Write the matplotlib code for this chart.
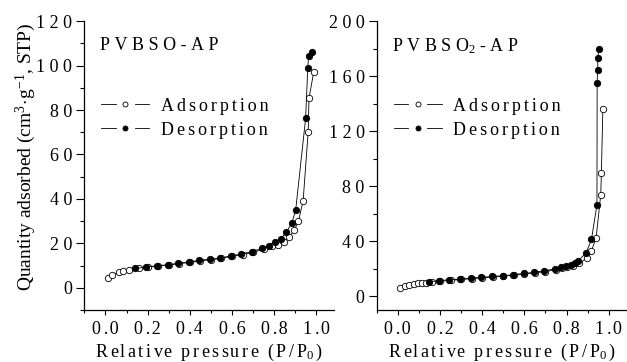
import numpy as np
import matplotlib
matplotlib.use('Agg')
import matplotlib.pyplot as plt
from matplotlib.ticker import MultipleLocator, FixedLocator, FixedFormatter
from matplotlib.lines import Line2D
from matplotlib.legend_handler import HandlerBase

plt.rcParams['font.family'] = ['Liberation Serif', 'DejaVu Serif']
plt.rcParams['mathtext.fontset'] = 'custom'
plt.rcParams['mathtext.rm'] = 'Liberation Serif'
plt.rcParams['mathtext.it'] = 'Liberation Serif:italic'

HAIR = '\u200a'

def spaced(s, n):
    # fake the wide letter spacing of the original figure (n hair spaces per gap, may be fractional)
    out = s[0]
    for i, c in enumerate(s[1:]):
        k = round((i + 1) * n) - round(i * n)
        out += HAIR * k + c
    return out

# ---- data ----
# PVBSO-AP
ads1_x = [0.01, 0.03, 0.065, 0.085, 0.11, 0.16, 0.20, 0.25, 0.30, 0.35, 0.40, 0.45,
          0.50, 0.55, 0.60, 0.65, 0.70, 0.75, 0.79, 0.82, 0.845, 0.87, 0.895, 0.915,
          0.937, 0.961, 0.965, 0.987]
ads1_y = [4.4, 5.8, 7.0, 7.5, 8.0, 8.7, 9.2, 9.8, 10.2, 10.9, 11.4, 12.1,
          12.7, 13.2, 14.2, 14.9, 16.0, 17.3, 18.6, 19.3, 20.8, 22.8, 25.8, 30.1,
          39.0, 70.0, 85.3, 96.9]
des1_x = [0.138, 0.193, 0.245, 0.296, 0.346, 0.394, 0.443, 0.494, 0.545, 0.593, 0.644,
          0.694, 0.744, 0.775, 0.802, 0.831, 0.858, 0.884, 0.902, 0.949, 0.959, 0.963, 0.981]
des1_y = [8.7, 9.3, 10.0, 10.3, 11.1, 11.6, 12.3, 12.9, 13.3, 14.4, 15.1,
          16.3, 17.8, 18.9, 20.4, 22.0, 25.0, 29.3, 35.1, 76.3, 98.7, 104.3, 105.9]

# PVBSO2-AP
ads2_x = [0.011, 0.032, 0.055, 0.075, 0.095, 0.115, 0.135, 0.16, 0.20, 0.25, 0.30, 0.35,
          0.40, 0.45, 0.50, 0.55, 0.60, 0.65, 0.70, 0.75, 0.78, 0.80, 0.83, 0.86,
          0.895, 0.917, 0.94, 0.962, 0.965, 0.972]
ads2_y = [6.0, 7.6, 8.4, 8.9, 9.3, 9.7, 10.0, 10.5, 11.0, 11.6, 12.2, 12.8,
          13.4, 14.0, 14.6, 15.3, 16.2, 17.0, 18.0, 19.3, 20.2, 21.0, 22.3, 24.0,
          27.6, 32.6, 42.3, 73.8, 89.3, 136.1]
des2_x = [0.147, 0.194, 0.245, 0.297, 0.348, 0.395, 0.447, 0.498, 0.545, 0.596, 0.644,
          0.692, 0.743, 0.774, 0.798, 0.822, 0.84, 0.856, 0.893, 0.918, 0.944,
          0.945, 0.947, 0.949, 0.952]
des2_y = [10.5, 11.3, 12.0, 12.5, 13.2, 13.7, 14.4, 14.9, 15.6, 16.6, 17.3,
          18.5, 19.8, 21.0, 21.7, 22.7, 24.0, 25.8, 31.6, 41.3, 66.5,
          154.8, 164.5, 173.5, 179.6]

x_ticks = [0.0, 0.2, 0.4, 0.6, 0.8, 1.0]
y_ticks1 = [0, 20, 40, 60, 80, 100, 120]
y_ticks2 = [0, 40, 80, 120, 160, 200]

panels = [
    dict(title=spaced('PVBSO-AP', 3), ads=(ads1_x, ads1_y), des=(des1_x, des1_y),
         ylim=(-10, 120), yticks=y_ticks1, minor=10),
    dict(title=spaced('PVBSO', 3) + r'$_2$' + HAIR * 3 + spaced('-AP', 3),
         ads=(ads2_x, ads2_y), des=(des2_x, des2_y),
         ylim=(-10, 200), yticks=y_ticks2, minor=20),
]


class GapLine(HandlerBase):
    """legend key drawn as  line - gap - marker - gap - line"""
    def __init__(self, gap=13.5, **kw):
        super().__init__(**kw)
        self.gap = gap

    def create_artists(self, legend, orig, xdescent, ydescent, width, height,
                       fontsize, trans):
        y = height / 2 - ydescent
        x0 = -xdescent
        x1 = x0 + width
        xc = (x0 + x1) / 2
        g = self.gap / 2
        l1 = Line2D([x0, xc - g], [y, y], color='black', lw=0.6)
        l2 = Line2D([xc + g, x1], [y, y], color='black', lw=0.6)
        m = Line2D([xc], [y], ls='none', marker='o', ms=3.6,
                   mfc=orig.get_markerfacecolor(), mec='black', mew=0.6)
        for a in (l1, l2, m):
            a.set_transform(trans)
        return [l1, l2, m]


fig = plt.figure(figsize=(6.27, 3.62), dpi=100)
rects = [[0.1345, 0.1436, 0.3987, 0.798], [0.6008, 0.1436, 0.3987, 0.798]]

xlabel = spaced('Relative pressure (P/P', 1.6) + r'$_0$' + HAIR * 2 + ')'

for rect, p in zip(rects, panels):
    ax = fig.add_axes(rect)
    h1, = ax.plot(*p['ads'], '-o', color='black', lw=0.6, ms=4.6, mfc='white',
                  mec='black', mew=0.6)
    h2, = ax.plot(*p['des'], '-o', color='black', lw=0.6, ms=4.6, mfc='black',
                  mec='black', mew=0.6)
    ax.set_xlim(-0.1, 1.085)
    ax.set_ylim(*p['ylim'])
    ax.spines['top'].set_visible(False)
    ax.spines['right'].set_visible(False)
    for s in ('left', 'bottom'):
        ax.spines[s].set_linewidth(0.9)
    ax.xaxis.set_major_locator(FixedLocator(x_ticks))
    ax.xaxis.set_major_formatter(FixedFormatter([spaced('%.1f' % v, 1.5) for v in x_ticks]))
    ax.xaxis.set_minor_locator(MultipleLocator(0.1))
    ax.yaxis.set_major_locator(FixedLocator(p['yticks']))
    ax.yaxis.set_major_formatter(FixedFormatter([spaced('%d' % v, 3) for v in p['yticks']]))
    ax.yaxis.set_minor_locator(MultipleLocator(p['minor']))
    ax.tick_params(which='both', direction='out', width=0.8, labelsize=13)
    ax.tick_params(axis='x', which='major', length=3.5, pad=4.5)
    ax.tick_params(axis='x', which='minor', length=2.2)
    ax.tick_params(axis='y', which='major', length=5.5, pad=3.2)
    ax.tick_params(axis='y', which='minor', length=3.0)
    ax.set_xlabel(xlabel, fontsize=13, labelpad=3)
    ax.text(0.062, 0.915, p['title'], transform=ax.transAxes, fontsize=13,
            va='center', ha='left')
    ax.legend([h1, h2], [spaced('Adsorption', 2), spaced('Desorption', 2)],
              handler_map={Line2D: GapLine()},
              loc='upper left', bbox_to_anchor=(0.068, 0.735), frameon=False,
              fontsize=13, handlelength=2.66, handletextpad=0.65,
              labelspacing=0.38, borderpad=0, borderaxespad=0)

ax0 = fig.axes[0]
ax0.set_ylabel(r'Quantity adsorbed (cm$^{3}\!\cdot\!$g$^{-1}$, STP)', fontsize=14)
ax0.yaxis.set_label_coords(-0.185, 0.53)

fig.savefig('out.png', dpi=100)
